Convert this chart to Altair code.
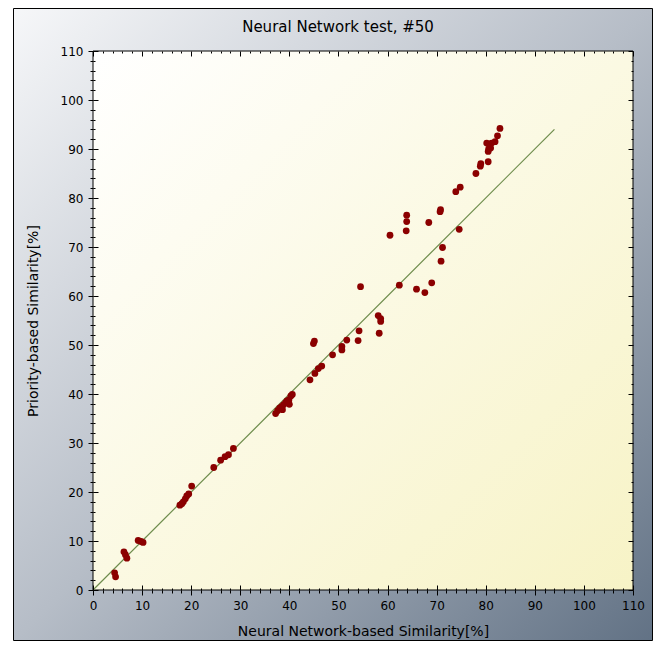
import altair as alt
import pandas as pd

# ---- data ----
sim_nn = [4.4, 4.6, 6.3, 6.6, 6.9, 9.2, 9.8, 10.2,
          17.7, 18.1, 18.4, 18.8, 19.1, 19.5, 20.1,
          24.6, 26.0, 26.9, 27.6, 28.6,
          37.2, 37.6, 38.0, 38.4, 38.8, 39.2, 39.5, 39.9, 40.3, 40.6, 40.0, 38.6,
          44.2, 45.2, 45.9, 46.6, 44.9, 45.1, 48.8, 50.7, 50.7, 51.7,
          54.0, 54.2, 54.5, 58.1, 58.6, 58.6, 58.3, 60.5, 62.4,
          63.9, 63.9, 63.8, 65.9, 67.6, 69.0, 68.4, 70.8, 70.7, 71.2, 70.9,
          73.9, 74.8, 74.6, 78.0, 78.9, 79.0, 80.5, 80.5, 80.2, 81.2, 81.0,
          81.9, 82.4, 82.9, 80.6]
sim_priority = [3.5, 2.7, 7.8, 7.2, 6.5, 10.1, 9.9, 9.7,
                17.3, 17.6, 18.0, 18.6, 19.2, 19.6, 21.2,
                25.0, 26.5, 27.2, 27.6, 28.9,
                36.0, 36.6, 37.1, 37.4, 37.8, 38.2, 38.6, 38.8, 39.6, 39.9, 37.9, 36.8,
                42.9, 44.2, 45.2, 45.7, 50.3, 50.8, 48.0, 49.7, 49.0, 51.0,
                50.9, 52.9, 61.9, 56.0, 55.4, 54.8, 52.4, 72.4, 62.2,
                76.5, 75.2, 73.3, 61.4, 60.7, 62.7, 75.0, 77.6, 77.2, 69.9, 67.1,
                81.3, 82.2, 73.6, 85.0, 86.5, 87.0, 87.4, 89.5, 91.2, 91.2, 90.2,
                91.5, 92.7, 94.2, 90.0]
diag_x = [0, 94]
diag_y = [0, 94]
all_ticks = list(range(0, 111, 2))
title_text = "Neural Network test, #50"
x_title = "Neural Network-based Similarity[%]"
y_title = "Priority-based Similarity[%]"

W, H = 540, 539
FONT = "DejaVu Sans"

pts = pd.DataFrame({"nn": sim_nn, "pr": sim_priority})
diag = pd.DataFrame({"nn": diag_x, "pr": diag_y})
one = pd.DataFrame({"t": [title_text]})

sx = alt.Scale(domain=[0, 110], nice=False, zero=False)
sy = alt.Scale(domain=[0, 110], nice=False, zero=False)


def tsize(major, minor):
    return {"condition": {"test": "datum.value % 10 === 0", "value": major}, "value": minor}


common = dict(values=all_ticks, grid=False, domain=False, tickColor="black",
              tickWidth=1, zindex=1)
lab = dict(labelExpr="datum.value % 10 === 0 ? datum.label : ''", labelFont=FONT,
           labelFontSize=12, labelColor="black", labelOverlap=False, labelFlush=False)
ttl = dict(titleFont=FONT, titleFontSize=14, titleFontWeight="normal", titleColor="black")

x_out = alt.Axis(orient="bottom", tickSize=tsize(5, 3), labelPadding=5,
                 titleX=W / 2, titleY=41, titleAlign="center", titleBaseline="middle",
                 **common, **lab, **ttl)
y_out = alt.Axis(orient="left", tickSize=tsize(5, 3), labelPadding=5,
                 titleX=-60, titleY=H / 2, titleAngle=-90, titleAlign="center",
                 titleBaseline="middle", **common, **lab, **ttl)
x_in_bottom = alt.Axis(orient="top", offset=-H, tickSize=tsize(5, 2), labels=False, **common)
y_in_left = alt.Axis(orient="right", offset=-W, tickSize=tsize(5, 2), labels=False, **common)
x_in_top = alt.Axis(orient="bottom", offset=-H, tickSize=tsize(5, 2), labels=False, **common)
y_in_right = alt.Axis(orient="left", offset=-W, tickSize=tsize(5, 2), labels=False, **common)

outer_grad = alt.LinearGradient(
    gradient="linear", x1=0, y1=0, x2=1, y2=1,
    stops=[alt.GradientStop(offset=0, color="#f6f7f9"),
           alt.GradientStop(offset=0.5, color="#b6bdc7"),
           alt.GradientStop(offset=1, color="#627285")])
plot_grad = alt.LinearGradient(
    gradient="linear", x1=0, y1=0, x2=1, y2=1,
    stops=[alt.GradientStop(offset=0, color="#ffffff"),
           alt.GradientStop(offset=1, color="#f7f3c6")])

outer_bg = alt.Chart(one).mark_rect(fill=outer_grad, stroke="black", strokeWidth=1).encode(
    x=alt.value(-79.5), x2=alt.value(559.5), y=alt.value(-42.5), y2=alt.value(589.5))
plot_bg = alt.Chart(one).mark_rect(fill=plot_grad, stroke="black", strokeWidth=1).encode(
    x=alt.value(0), x2=alt.value(W), y=alt.value(0), y2=alt.value(H))
title = alt.Chart(one).mark_text(font=FONT, fontSize=15, color="black", align="center",
                                 baseline="middle").encode(
    x=alt.value(245), y=alt.value(-24), text="t:N")

line = alt.Chart(diag).mark_line(color="#6e8c4c", strokeWidth=1.2).encode(
    x=alt.X("nn:Q", scale=sx, axis=x_out, title=x_title),
    y=alt.Y("pr:Q", scale=sy, axis=y_out, title=y_title))
points = alt.Chart(pts).mark_circle(size=46, color="#8b0000", opacity=1).encode(
    x=alt.X("nn:Q", scale=sx, axis=x_in_bottom, title=None),
    y=alt.Y("pr:Q", scale=sy, axis=y_in_left, title=None))
ghost = alt.Chart(pts).mark_circle(size=46, opacity=0).encode(
    x=alt.X("nn:Q", scale=sx, axis=x_in_top, title=None),
    y=alt.Y("pr:Q", scale=sy, axis=y_in_right, title=None))

chart = alt.layer(outer_bg, plot_bg, title, line, points, ghost).resolve_axis(
    x="independent", y="independent"
).properties(
    width=W, height=H,
    autosize=alt.AutoSizeParams(type="none"),
    padding={"left": 85, "top": 43, "right": 20, "bottom": 51},
).configure_view(strokeWidth=0).configure(background="white")

chart.save("out.html", embed_options={"renderer": "svg", "actions": False})
